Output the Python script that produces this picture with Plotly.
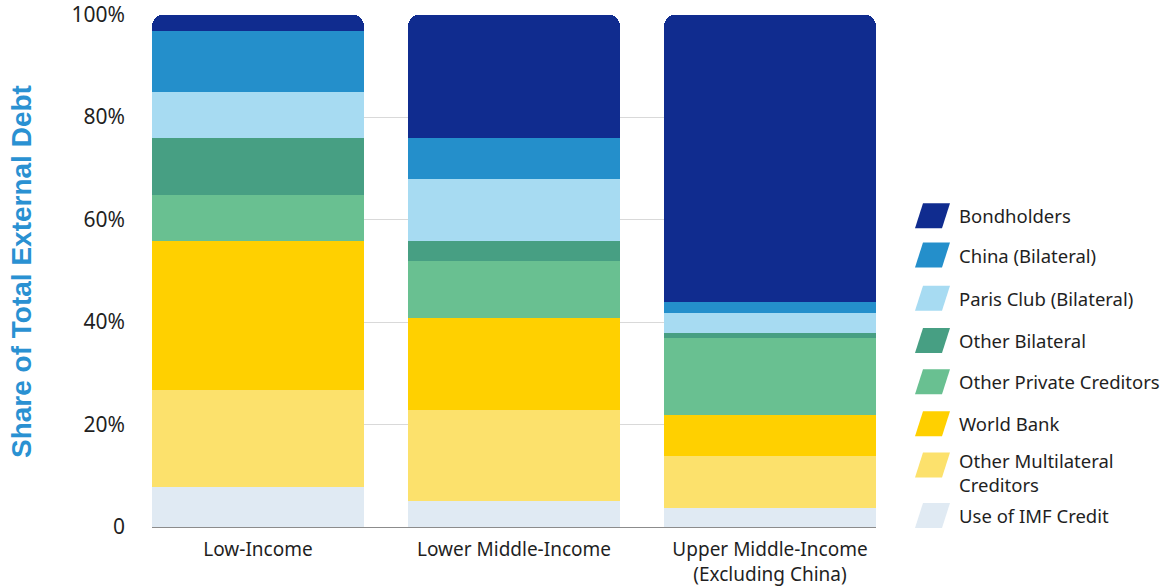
import plotly.graph_objects as go

categories = ["Low-Income", "Lower Middle-Income", "Upper Middle-Income<br>(Excluding China)"]

bondholders = [3.3, 24.1, 56.1]
china_bilateral = [11.9, 8.0, 2.1]
paris_club = [8.9, 12.0, 3.9]
other_bilateral = [11.1, 3.9, 1.0]
other_private = [9.0, 11.2, 15.0]
world_bank = [29.0, 17.9, 8.0]
other_multilateral = [18.9, 17.9, 10.1]
imf_credit = [7.9, 5.0, 3.8]

tick_vals = [0, 20, 40, 60, 80, 100]
tick_text = ["0", "20%", "40%", "60%", "80%", "100%"]

# bottom-to-top stacking order
series = [
    ("Use of IMF Credit", imf_credit, "#E0EAF3"),
    ("Other Multilateral Creditors", other_multilateral, "#FCE16C"),
    ("World Bank", world_bank, "#FFD000"),
    ("Other Private Creditors", other_private, "#69C091"),
    ("Other Bilateral", other_bilateral, "#479F83"),
    ("Paris Club (Bilateral)", paris_club, "#A7DBF2"),
    ("China (Bilateral)", china_bilateral, "#248FCB"),
    ("Bondholders", bondholders, "#102C8F"),
]

W, H = 1164, 588
L, R, T, B = 152, 288, 14, 61
PW, PH = W - L - R, H - T - B

fig = go.Figure()
for name, vals, col in series:
    fig.add_trace(go.Bar(x=categories, y=vals, name=name, marker=dict(color=col, line=dict(width=0)),
                         showlegend=False))

FONT = "Noto Sans"
TXT = "#1f1f1f"

def px_x(p):
    return (p - L) / PW

def px_y(p):
    return (H - B - p) / PH

shapes = []
annotations = []
# custom legend (top to bottom): label, colour, symbol centre, text centre
legend_items = [
    ("Bondholders", "#102C8F", 215.8, 215.8),
    ("China (Bilateral)", "#248FCB", 255.0, 255.0),
    ("Paris Club (Bilateral)", "#A7DBF2", 298.3, 298.3),
    ("Other Bilateral", "#479F83", 340.5, 340.5),
    ("Other Private Creditors", "#69C091", 381.7, 381.7),
    ("World Bank", "#FFD000", 423.8, 423.8),
    ("Other Multilateral<br>Creditors", "#FCE16C", 465.0, 472.0),
    ("Use of IMF Credit", "#E0EAF3", 515.5, 515.5),
]
for label, col, cy, ty in legend_items:
    x0, x1, slant, hh = 915, 942, 8, 12.5
    path = "M {a},{b} L {c},{b} L {d},{e} L {f},{e} Z".format(
        a=px_x(x0), b=px_y(cy + hh), c=px_x(x1), d=px_x(x1 + slant), e=px_y(cy - hh), f=px_x(x0 + slant))
    shapes.append(dict(type="path", path=path, xref="paper", yref="paper", fillcolor=col,
                       line=dict(width=0), layer="above"))
    annotations.append(dict(text=label, x=px_x(957), y=px_y(ty), xref="paper", yref="paper",
                            xanchor="left", yanchor="middle", align="left", showarrow=False,
                            font=dict(family=FONT, size=18.5, color=TXT)))

# y-axis title
annotations.append(dict(text="<b>Share of Total External Debt</b>", textangle=-90,
                        x=px_x(21.5), y=px_y(271.5), xref="paper", yref="paper",
                        xanchor="center", yanchor="middle", showarrow=False,
                        font=dict(family="Liberation Sans", size=28, color="#2A91D2")))

fig.update_layout(
    width=W, height=H,
    margin=dict(l=L, r=R, t=T, b=B, autoexpand=False),
    barmode="stack", bargap=0.172, barcornerradius=12,
    plot_bgcolor="white", paper_bgcolor="white",
    shapes=shapes, annotations=annotations,
    showlegend=False,
    xaxis=dict(range=[-0.414, 2.414], showgrid=False, zeroline=False, showline=False,
               tickfont=dict(family=FONT, size=19, color=TXT), ticks="", ticklabelstandoff=9,
               ticklabeloverflow="allow", fixedrange=True),
    yaxis=dict(range=[0, 100.1], tickvals=tick_vals, ticktext=tick_text, showgrid=True,
               gridcolor="#D9D9D9", gridwidth=1, zeroline=True, zerolinecolor="#8C8C8C",
               zerolinewidth=1.2, showline=False, ticks="", ticklabelstandoff=26,
               ticklabeloverflow="allow",
               tickfont=dict(family=FONT, size=21, color=TXT), fixedrange=True),
)

fig.write_html("out.html", config={"displayModeBar": False},
               post_script="document.body.style.margin='0';document.body.style.padding='0';")
